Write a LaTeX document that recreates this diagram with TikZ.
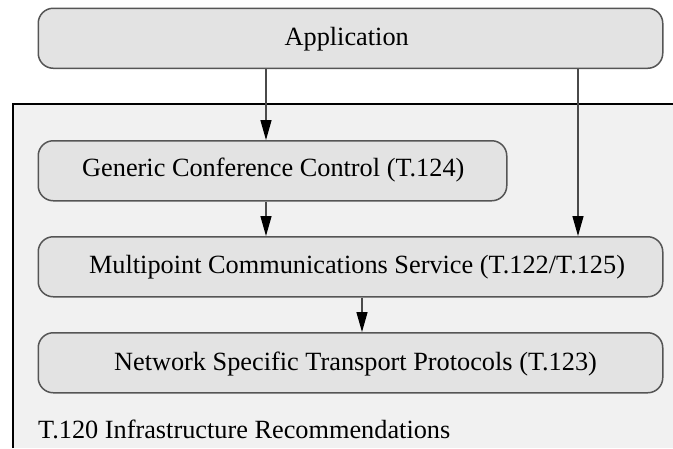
\documentclass[tikz,border=0pt]{standalone}
\usepackage{fontspec}
\setmainfont{Liberation Serif}
\usetikzlibrary{arrows.meta}
\definecolor{boxfill}{HTML}{E3E3E3}
\definecolor{panelfill}{HTML}{F1F1F1}
\definecolor{boxline}{HTML}{555555}
\definecolor{arrowline}{HTML}{4A4A4A}
\begin{document}
\begin{tikzpicture}[x=1pt,y=-1pt,
  layer/.style={draw=boxline, line width=1.5pt, fill=boxfill, rounded corners=15pt,
    inner sep=0pt, anchor=north west, minimum height=60pt},
  lbl/.style={font=\fontsize{26.3}{30}\selectfont, anchor=base, inner sep=0pt},
  flow/.style={draw=arrowline, line width=1.3pt,
    -{Triangle[length=20pt,width=11pt,fill=black,color=black]}}]
\useasboundingbox (0,0) rectangle (673,448);

% T.120 infrastructure panel (open to the right and bottom)
\fill[panelfill] (13,103.5) rectangle (673,448);
\draw[line width=2pt] (13,448) -- (13,103.5) -- (673,103.5);

% protocol layers
\node[layer, minimum width=624.5pt] (app) at (37.5,7.5) {};
\node[layer, minimum width=468.5pt] (gcc) at (37.5,140) {};
\node[layer, minimum width=624.5pt] (mcs) at (37.5,236) {};
\node[layer, minimum width=624.5pt] (nst) at (37.5,332) {};

\node[lbl] (appt) at (346.7,45) {Application};
\node[lbl] (gcct) at (273.3,176.5) {Generic Conference Control (T.124)};
\node[lbl] (mcst) at (357,273.3) {Multipoint Communications Service (T.122/T.125)};
\node[lbl] (nstt) at (355.5,370) {Network Specific Transport Protocols (T.123)};
\node[lbl, anchor=base west] (panelt) at (38,438.3) {T.120 Infrastructure Recommendations};

% data flow between layers
\coordinate (xa) at (266,0);
\coordinate (xb) at (578,0);
\coordinate (xc) at (362,0);
\draw[flow] (app.south -| xa) -- (gcc.north -| xa);
\draw[flow] (gcc.south -| xa) -- (mcs.north -| xa);
\draw[flow] (app.south -| xb) -- (mcs.north -| xb);
\draw[flow] (mcs.south -| xc) -- (nst.north -| xc);
\end{tikzpicture}
\end{document}
